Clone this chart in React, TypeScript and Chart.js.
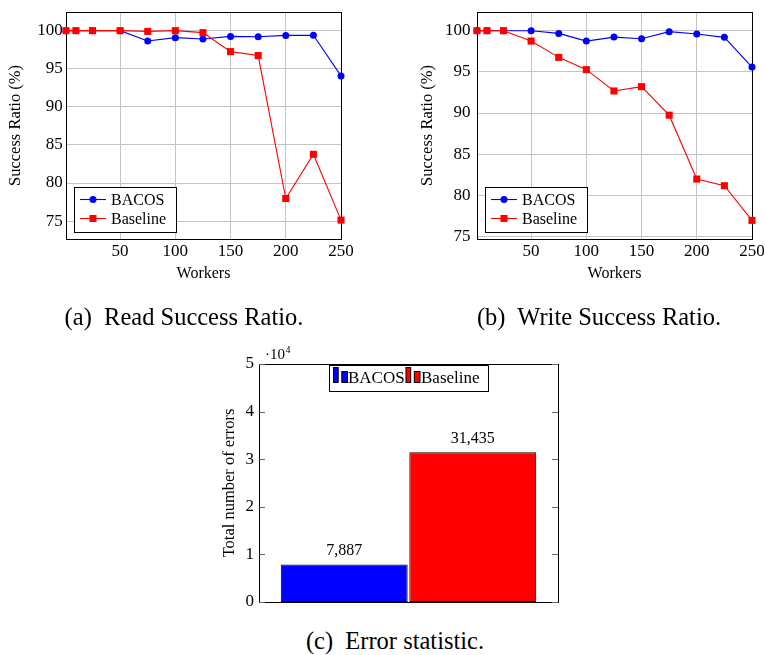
import React, { useEffect, useRef } from 'react';
import { Chart, registerables } from 'chart.js';

Chart.register(...registerables);

// ---------- data ----------
const workers = [1, 10, 25, 50, 75, 100, 125, 150, 175, 200, 225, 250];
const readBacos = [100, 100, 100, 100, 98.64, 99.08, 98.9, 99.25, 99.2, 99.38, 99.4, 94.06];
const readBaseline = [100, 100, 100, 100, 99.9, 100, 99.74, 97.25, 96.73, 77.96, 83.77, 75.13];
const writeBacos = [100, 100, 100, 100, 99.67, 98.74, 99.22, 99.03, 99.88, 99.6, 99.19, 95.59];
const writeBaseline = [100, 100, 100, 98.74, 96.76, 95.27, 92.68, 93.2, 89.74, 81.98, 81.17, 76.96];
const xTicks = [50, 100, 150, 200, 250];
const ratioTicks = [75, 80, 85, 90, 95, 100];
const seriesNames = ['BACOS', 'Baseline'];
const errorCategories = ['Errors'];
const errorBacos = [7887];
const errorBaseline = [31435];
const errorTicks = [0, 10000, 20000, 30000, 40000, 50000];

const BLUE = '#0000ff';
const RED = '#ff0000';
const FONT = "'Liberation Serif', 'Times New Roman', serif";

Chart.defaults.font.family = FONT;
Chart.defaults.color = '#000';

// ---------- plugins ----------
const drawFrame = (chart: any) => {
  const { ctx, chartArea: a } = chart;
  ctx.save();
  ctx.strokeStyle = '#000';
  ctx.lineWidth = 1;
  const l = Math.round(a.left) + 0.5, t = Math.round(a.top) + 0.5;
  const r = Math.round(a.right) + 0.5, b = Math.round(a.bottom) + 0.5;
  ctx.strokeRect(l, t, r - l, b - t);
  ctx.restore();
};

const lineDecor = {
  id: 'lineDecor',
  beforeDatasetsDraw(chart: any) {
    drawFrame(chart);
  },
  afterDraw(chart: any) {
    const { ctx, chartArea: a } = chart;
    const w = 102, h = 45;
    const bx = Math.round(a.left) + 8, by = Math.round(a.bottom) - 7 - h;
    ctx.save();
    ctx.fillStyle = '#fff';
    ctx.fillRect(bx, by, w, h);
    ctx.strokeStyle = '#000';
    ctx.lineWidth = 1;
    ctx.strokeRect(bx + 0.5, by + 0.5, w, h);
    const rows = [
      { name: seriesNames[0], color: BLUE, style: 'circle', cy: by + 12.5 },
      { name: seriesNames[1], color: RED, style: 'rect', cy: by + 31.5 },
    ];
    rows.forEach((row) => {
      ctx.strokeStyle = row.color;
      ctx.fillStyle = row.color;
      ctx.lineWidth = 1.1;
      ctx.beginPath();
      ctx.moveTo(bx + 6, row.cy);
      ctx.lineTo(bx + 32, row.cy);
      ctx.stroke();
      const mx = bx + 19;
      if (row.style === 'circle') {
        ctx.beginPath();
        ctx.arc(mx, row.cy, 3.5, 0, Math.PI * 2);
        ctx.fill();
      } else {
        ctx.fillRect(mx - 3.5, row.cy - 3.5, 7, 7);
      }
      ctx.fillStyle = '#000';
      ctx.font = `16px ${FONT}`;
      ctx.textBaseline = 'middle';
      ctx.textAlign = 'left';
      ctx.fillText(row.name, bx + 37, row.cy + 1);
    });
    ctx.restore();
  },
};

const barDecor = {
  id: 'barDecor',
  beforeDatasetsDraw(chart: any) {
    drawFrame(chart);
    const { ctx, chartArea: a, scales } = chart;
    const y = scales.y;
    ctx.save();
    ctx.strokeStyle = '#666';
    ctx.lineWidth = 1;
    y.ticks.forEach((t: any) => {
      const py = Math.round(y.getPixelForValue(t.value)) + 0.5;
      ctx.beginPath();
      ctx.moveTo(a.left, py);
      ctx.lineTo(a.left + 6, py);
      ctx.moveTo(a.right - 6, py);
      ctx.lineTo(a.right, py);
      ctx.stroke();
    });
    ctx.restore();
  },
  afterDraw(chart: any) {
    const { ctx, chartArea: a } = chart;
    ctx.save();
    // value labels
    ctx.fillStyle = '#000';
    ctx.font = `16px ${FONT}`;
    ctx.textAlign = 'center';
    ctx.textBaseline = 'middle';
    chart.data.datasets.forEach((ds: any, i: number) => {
      const meta = chart.getDatasetMeta(i);
      meta.data.forEach((el: any, j: number) => {
        ctx.fillText(Number(ds.data[j]).toLocaleString('en-US'), el.x, el.y - 14);
      });
    });
    // scale multiplier
    ctx.textAlign = 'left';
    ctx.textBaseline = 'alphabetic';
    ctx.font = `15px ${FONT}`;
    const mx = a.left + 6, my = a.top - 5;
    ctx.fillText('\u00b710', mx, my);
    const w10 = ctx.measureText('\u00b710').width;
    ctx.font = `10px ${FONT}`;
    ctx.fillText('4', mx + w10 + 0.5, my - 6);
    // legend
    const bw = 159, bh = 26;
    const bx = Math.round((a.left + a.right) / 2 - bw / 2), by = Math.round(a.top) + 1;
    ctx.fillStyle = '#fff';
    ctx.fillRect(bx, by, bw, bh);
    ctx.strokeStyle = '#000';
    ctx.lineWidth = 1;
    ctx.strokeRect(bx + 0.5, by + 0.5, bw, bh);
    const items = [
      { name: seriesNames[0], color: BLUE, x: bx + 4.5, tx: bx + 19 },
      { name: seriesNames[1], color: RED, x: bx + 77, tx: bx + 92 },
    ];
    const base = by + 17.5;
    items.forEach((it) => {
      ctx.fillStyle = it.color;
      ctx.strokeStyle = '#000';
      ctx.fillRect(it.x, base - 15, 4.7, 15);
      ctx.strokeRect(it.x, base - 15, 4.7, 15);
      ctx.fillRect(it.x + 8.3, base - 11, 5.7, 11);
      ctx.strokeRect(it.x + 8.3, base - 11, 5.7, 11);
      ctx.fillStyle = '#000';
      ctx.font = `17px ${FONT}`;
      ctx.textBaseline = 'middle';
      ctx.fillText(it.name, it.tx, by + bh / 2 + 1);
    });
    ctx.restore();
  },
};

// ---------- config builders ----------
function lineConfig(bacos: number[], baseline: number[], o: any) {
  return {
    type: 'line',
    data: {
      datasets: [
        {
          label: seriesNames[0],
          data: workers.map((x, i) => ({ x, y: bacos[i] })),
          borderColor: BLUE,
          backgroundColor: BLUE,
          pointBackgroundColor: BLUE,
          pointBorderColor: BLUE,
          pointStyle: 'circle',
          pointRadius: 3.5,
          pointBorderWidth: 0,
          borderWidth: 1.1,
          tension: 0,
          order: 1,
          clip: false,
        },
        {
          label: seriesNames[1],
          data: workers.map((x, i) => ({ x, y: baseline[i] })),
          borderColor: RED,
          backgroundColor: RED,
          pointBackgroundColor: RED,
          pointBorderColor: RED,
          pointStyle: 'rect',
          pointRadius: 5,
          pointBorderWidth: 0,
          borderWidth: 1.1,
          tension: 0,
          order: 0,
          clip: false,
        },
      ],
    },
    options: {
      responsive: false,
      animation: false,
      devicePixelRatio: 1,
      layout: { padding: { left: 0, top: 12, right: o.padRight, bottom: 0 } },
      plugins: { legend: { display: false }, tooltip: { enabled: false } },
      scales: {
        x: {
          type: 'linear',
          min: 1,
          max: 250,
          afterBuildTicks: (s: any) => {
            s.ticks = xTicks.map((v) => ({ value: v }));
          },
          ticks: { font: { size: 17 }, color: '#000', padding: 2.5, autoSkip: false, maxRotation: 0 },
          grid: { color: '#c4c4c4', lineWidth: 1, drawTicks: false },
          border: { display: false },
          title: { display: true, text: 'Workers', font: { size: 16 }, color: '#000', padding: { top: 0, bottom: 6.5 } },
          afterFit: (s: any) => {
            s.height = 51;
            s.paddingLeft = 0;
            s.paddingRight = 0;
          },
        },
        y: {
          type: 'linear',
          min: o.yMin,
          max: o.yMax,
          afterBuildTicks: (s: any) => {
            s.ticks = ratioTicks.map((v) => ({ value: v }));
          },
          ticks: { font: { size: 17 }, color: '#000', padding: o.tickPad, autoSkip: false },
          grid: { color: '#c4c4c4', lineWidth: 1, drawTicks: false },
          border: { display: false },
          title: { display: true, text: 'Success Ratio (%)', font: { size: 16.5 }, color: '#000', padding: { top: o.titlePad, bottom: 0 } },
          afterFit: (s: any) => {
            s.width = o.yWidth;
            s.paddingTop = 0;
            s.paddingBottom = 0;
          },
        },
      },
    },
    plugins: [lineDecor],
  };
}

function barConfig() {
  return {
    type: 'bar',
    data: {
      labels: errorCategories,
      datasets: [
        {
          label: seriesNames[0],
          data: errorBacos,
          backgroundColor: BLUE,
          borderColor: '#000',
          borderWidth: 1,
          borderSkipped: false,
          categoryPercentage: 0.86,
          barPercentage: 0.987,
        },
        {
          label: seriesNames[1],
          data: errorBaseline,
          backgroundColor: RED,
          borderColor: '#000',
          borderWidth: 1,
          borderSkipped: false,
          categoryPercentage: 0.86,
          barPercentage: 0.987,
        },
      ],
    },
    options: {
      responsive: false,
      animation: false,
      devicePixelRatio: 1,
      layout: { padding: { left: 0, top: 34, right: 12, bottom: 18 } },
      plugins: { legend: { display: false }, tooltip: { enabled: false } },
      scales: {
        x: { display: false },
        y: {
          type: 'linear',
          min: 0,
          max: 50000,
          afterBuildTicks: (s: any) => {
            s.ticks = errorTicks.map((v) => ({ value: v }));
          },
          ticks: {
            font: { size: 17 },
            color: '#000',
            padding: 5,
            callback: (v: any) => String(Number(v) / 10000),
          },
          grid: { display: false, drawTicks: false },
          border: { display: false },
          title: { display: true, text: 'Total number of errors', font: { size: 16.5 }, color: '#000', padding: { top: 20, bottom: 0 } },
          afterFit: (s: any) => {
            s.width = 59;
            s.paddingTop = 0;
            s.paddingBottom = 0;
          },
        },
      },
    },
    plugins: [barDecor],
  };
}

// ---------- components ----------
function ChartCanvas({ make, left, top, width, height }: any) {
  const ref = useRef<HTMLCanvasElement | null>(null);
  useEffect(() => {
    if (!ref.current) return;
    const chart = new Chart(ref.current, make());
    return () => chart.destroy();
  }, []);
  return (
    <canvas
      ref={ref}
      width={width}
      height={height}
      style={{ position: 'absolute', left, top, width, height }}
    />
  );
}

function Caption({ text, cx, cy, size }: any) {
  return (
    <div
      style={{
        position: 'absolute',
        left: cx - 200,
        top: cy - 15,
        width: 400,
        height: 30,
        lineHeight: '30px',
        textAlign: 'center',
        fontFamily: FONT,
        fontSize: size,
        whiteSpace: 'pre',
        color: '#000',
      }}
    >
      {text}
    </div>
  );
}

export default function App() {
  return (
    <div style={{ position: 'absolute', left: 0, top: 0, width: 765, height: 655, background: '#fff', overflow: 'hidden' }}>
      <ChartCanvas
        make={() => lineConfig(readBacos, readBaseline, { yMin: 72.65, yMax: 102.45, yWidth: 66, tickPad: 3.3, titlePad: 6.1, padRight: 39 })}
        left={0}
        top={0}
        width={380}
        height={290}
      />
      <ChartCanvas
        make={() => lineConfig(writeBacos, writeBaseline, { yMin: 74.7, yMax: 102.27, yWidth: 97, tickPad: 6.6, titlePad: 38.1, padRight: 13 })}
        left={380}
        top={0}
        width={385}
        height={290}
      />
      <ChartCanvas make={barConfig} left={200} top={330} width={370} height={290} />
      <Caption text={'(a)  Read Success Ratio.'} cx={184} cy={317} size={24.5} />
      <Caption text={'(b)  Write Success Ratio.'} cx={599} cy={317} size={24.5} />
      <Caption text={'(c)  Error statistic.'} cx={395} cy={641} size={24.5} />
    </div>
  );
}
